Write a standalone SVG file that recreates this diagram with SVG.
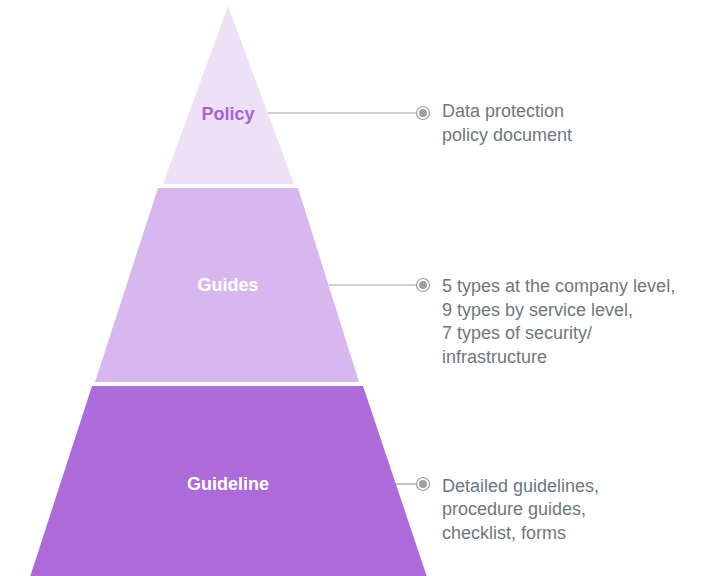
<svg xmlns="http://www.w3.org/2000/svg" width="703" height="576" viewBox="0 0 703 576">
<style>
.lbl{font-family:"Liberation Sans",Arial,sans-serif;font-weight:bold;font-size:18px;text-anchor:middle}
.desc{font-family:"Liberation Sans",Arial,sans-serif;font-size:18px;fill:#6E777E}
.conn{stroke:#9AA1A7;stroke-width:1.2;fill:none}
.ring{fill:#fff;stroke:#9AA1A7;stroke-width:1.2}
.dot{fill:#9AA1A7}
</style>
<rect width="703" height="576" fill="#fff"/>
<g id="policy">
<polygon points="228,6 294,184 163,184" fill="#EEE1F7"/>
<text class="lbl" x="228" y="120" fill="#A862D8">Policy</text>
</g>
<g id="guides">
<polygon points="158,188 298,188 359,382 95,382" fill="#D8B7EE"/>
<text class="lbl" x="228" y="291" fill="#fff">Guides</text>
</g>
<g id="guideline">
<polygon points="92,386 363,386 427,577 30,577" fill="#AD6BD9"/>
<text class="lbl" x="228" y="490" fill="#fff">Guideline</text>
</g>
<g id="connectors">
<line class="conn" x1="268" y1="113" x2="417" y2="113"/>
<line class="conn" x1="329" y1="285" x2="417" y2="285"/>
<line class="conn" x1="395" y1="484" x2="417" y2="484"/>
<circle class="ring" cx="423" cy="113" r="6.5"/>
<circle class="dot" cx="423" cy="113" r="4"/>
<circle class="ring" cx="423" cy="285" r="6.5"/>
<circle class="dot" cx="423" cy="285" r="4"/>
<circle class="ring" cx="423" cy="484" r="6.5"/>
<circle class="dot" cx="423" cy="484" r="4"/>
</g>
<g id="desc-policy">
<text class="desc" x="442" y="117">Data protection</text>
<text class="desc" x="442" y="140.5">policy document</text>
</g>
<g id="desc-guides">
<text class="desc" x="442" y="292">5 types at the company level,</text>
<text class="desc" x="442" y="315.5">9 types by service level,</text>
<text class="desc" x="442" y="339">7 types of security/</text>
<text class="desc" x="442" y="362.5">infrastructure</text>
</g>
<g id="desc-guideline">
<text class="desc" x="442" y="491.5">Detailed guidelines,</text>
<text class="desc" x="442" y="515">procedure guides,</text>
<text class="desc" x="442" y="538.5">checklist, forms</text>
</g>
</svg>
